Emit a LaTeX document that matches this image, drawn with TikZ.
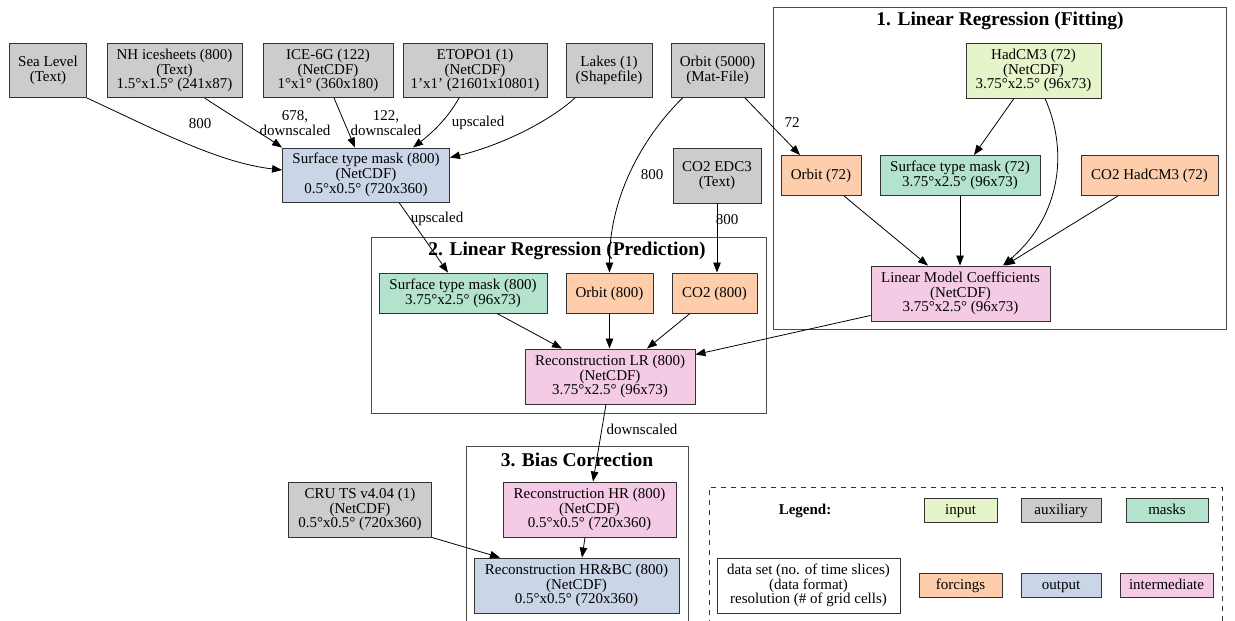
\documentclass[tikz,border=0pt]{standalone}
\usepackage{fontspec}
\setmainfont{Liberation Serif}
\usetikzlibrary{arrows.meta,calc}
\definecolor{cinput}{HTML}{E6F5C9}
\definecolor{caux}{HTML}{CCCCCC}
\definecolor{cmask}{HTML}{B3E2CD}
\definecolor{cforce}{HTML}{FDCDAC}
\definecolor{cout}{HTML}{CBD5E8}
\definecolor{cinter}{HTML}{F4CAE4}
\newcommand{\nf}{\fontsize{15}{14.8}\selectfont}
\newcommand{\tf}{\fontsize{19.5}{21}\selectfont\bfseries}
\newcommand{\sq}{{\char"27}}
\begin{document}
\begin{tikzpicture}[x=1pt,y=-1pt,
  box/.style={draw=black!80,line width=0.9pt,inner sep=0pt,align=center,font=\nf},
  bx/.style n args={3}{box,minimum width=#1,minimum height=#2,fill=#3},
  oneline/.style={text height=11pt,text depth=3pt},
  conn/.style={draw=black,line width=0.8pt,-{Triangle[length=10pt,width=7.5pt]}},
  lbl/.style={font=\nf,align=center,inner sep=0pt},
  ttl/.style={font=\tf,inner sep=0pt},
  clus/.style={draw=black!70,line width=0.9pt}]
\useasboundingbox (0,0) rectangle (1235,621);
% clusters
\draw[clus] (773,7) rectangle (1226,329);
\draw[clus] (371,237) rectangle (766,413);
\draw[clus] (466,625) -- (466,446) -- (688,446) -- (688,625);
\draw[line width=0.8pt,draw=black!80,dash pattern=on 5pt off 5pt] (709,625) -- (709,487) -- (1222,487) -- (1222,625);
\node[ttl] (t1) at (1000,21) {1. Linear Regression (Fitting)};
\node[ttl] (t2) at (567,251) {2. Linear Regression (Prediction)};
\node[ttl] (t3) at (577,460) {3. Bias Correction};
% top row
\node[bx={77}{54}{caux}] (sea) at (48,70.5) {Sea Level\\(Text)};
\node[bx={135}{54}{caux}] (nh) at (174.5,70.5) {NH icesheets (800)\\(Text)\\1.5°x1.5° (241x87)};
\node[bx={130}{54}{caux}] (ice) at (328,70.5) {ICE-6G (122)\\(NetCDF)\\1°x1° (360x180)};
\node[bx={144}{54}{caux}] (etopo) at (475,70.5) {ETOPO1 (1)\\(NetCDF)\\1\sq x1\sq{} (21601x10801)};
\node[bx={86}{54}{caux}] (lakes) at (609,70.5) {Lakes (1)\\(Shapefile)};
\node[bx={93}{54}{caux}] (orb) at (717.5,70.5) {Orbit (5000)\\(Mat-File)};
\node[bx={167}{54}{cout}] (maskhr) at (366,175) {Surface type mask (800)\\(NetCDF)\\0.5°x0.5° (720x360)};
\node[bx={88}{55}{caux}] (co2edc) at (717,175.5) {CO2 EDC3\\(Text)};
% cluster 1
\node[bx={135}{55}{cinput}] (hadcm) at (1033.5,70.5) {HadCM3 (72)\\(NetCDF)\\3.75°x2.5° (96x73)};
\node[bx={80}{40}{cforce},oneline] (orb72) at (821,175.5) {Orbit (72)};
\node[bx={160}{40}{cmask}] (mask72) at (960,175.5) {Surface type mask (72)\\3.75°x2.5° (96x73)};
\node[bx={137}{40}{cforce},oneline] (co2had) at (1149.5,175.5) {CO2 HadCM3 (72)};
\node[bx={179}{55}{cinter}] (lmc) at (960.5,293.5) {Linear Model Coefficients\\(NetCDF)\\3.75°x2.5° (96x73)};
% cluster 2
\node[bx={168}{40}{cmask}] (maskgr) at (463,293) {Surface type mask (800)\\3.75°x2.5° (96x73)};
\node[bx={87}{40}{cforce},oneline] (orb800) at (609.5,293) {Orbit (800)};
\node[bx={85}{40}{cforce},oneline] (co2800) at (714.5,293) {CO2 (800)};
\node[bx={170}{55}{cinter}] (lr) at (610,376.5) {Reconstruction LR (800)\\(NetCDF)\\3.75°x2.5° (96x73)};
% cluster 3
\node[bx={173}{55}{cinter}] (hr) at (589.5,509.5) {Reconstruction HR (800)\\(NetCDF)\\0.5°x0.5° (720x360)};
\node[bx={143}{55}{caux}] (cru) at (360,509.5) {CRU TS v4.04 (1)\\(NetCDF)\\0.5°x0.5° (720x360)};
\node[bx={205}{55}{cout}] (hrbc) at (576.5,585.5) {Reconstruction HR\&BC (800)\\(NetCDF)\\0.5°x0.5° (720x360)};
% legend
\node[font=\nf\bfseries,inner sep=0pt] (leg) at (805,511) {Legend:};
\node[bx={73}{24}{cinput},oneline] (linput) at (960.5,510) {input};
\node[bx={80}{24}{caux},oneline] (laux) at (1061,510) {auxiliary};
\node[bx={82}{24}{cmask},oneline] (lmask) at (1167,510) {masks};
\node[bx={183}{55}{white}] (ldesc) at (808.5,585.5) {data set (no. of time slices)\\(data format)\\resolution (\# of grid cells)};
\node[bx={83}{24}{cforce},oneline] (lforce) at (960.5,585) {forcings};
\node[bx={80}{24}{cout},oneline] (lout) at (1061,585) {output};
\node[bx={93}{24}{cinter},oneline] (linter) at (1166.5,585) {intermediate};
% edges
\draw[conn] (sea.south east) .. controls (160,132) and (220,163) .. ($(maskhr.west)+(0,-5)$);
\draw[conn] ($(nh.south)+(30,0)$) .. controls (235,118) and (262,134) .. (maskhr.north west);
\draw[conn] ($(ice.south)+(6,0)$) -- ($(maskhr.north)+(-11,0)$);
\draw[conn] ($(etopo.south)+(-16,0)$) .. controls (448,118) and (432,133) .. ($(maskhr.north)+(47,0)$);
\draw[conn] ($(lakes.south)+(-34,0)$) .. controls (545,125) and (495,147) .. ($(maskhr.north east)+(0,10)$);
\draw[conn] ($(orb.south)+(-35,0)$) .. controls (640,140) and (609,200) .. (orb800.north);
\draw[conn] ($(orb.south)+(27.5,0)$) -- ($(orb72.north)+(-21,0)$);
\draw[conn] (co2edc.south) -- (co2edc.south |- co2800.north);
\draw[conn] ($(maskhr.south)+(33,0)$) -- ($(maskgr.north)+(-15,0)$);
\draw[conn] ($(hadcm.south)+(-19.5,0)$) -- ($(mask72.north)+(14,0)$);
\draw[conn] ($(hadcm.south)+(11.5,0)$) .. controls (1068,150) and (1062,215) .. ($(lmc.north)+(42.5,0)$);
\draw[conn] ($(orb72.south)+(23,0)$) -- ($(lmc.north)+(-32.5,0)$);
\draw[conn] (mask72.south) -- (mask72.south |- lmc.north);
\draw[conn] ($(co2had.south)+(-31.5,0)$) -- ($(lmc.north)+(44.5,0)$);
\draw[conn] ($(lmc.south west)+(0,-6)$) -- ($(lr.north east)+(0,6)$);
\draw[conn] ($(maskgr.south)+(34,0)$) -- ($(lr.north)+(-48,0)$);
\draw[conn] (orb800.south) -- (orb800.south |- lr.north);
\draw[conn] ($(co2800.south)+(-24.5,0)$) -- ($(lr.north)+(37,0)$);
\draw[conn] ($(lr.south)+(-4,0)$) -- ($(hr.north)+(3.5,0)$);
\draw[conn] (cru.south east) -- ($(hrbc.north)+(-76.5,0)$);
\draw[conn] ($(hr.south)+(-4.5,0)$) -- ($(hrbc.north)+(5.5,0)$);
% edge labels
\node[lbl] (e1) at (200,124) {800};
\node[lbl] (e2) at (295,123) {678,\\downscaled};
\node[lbl] (e3) at (386,123) {122,\\downscaled};
\node[lbl] (e4) at (478,123) {upscaled};
\node[lbl] (e5) at (437,219) {upscaled};
\node[lbl] (e6) at (652,175) {800};
\node[lbl] (e7) at (727,220) {800};
\node[lbl] (e8) at (792,123) {72};
\node[lbl] (e9) at (642,429) {downscaled};
\end{tikzpicture}
\end{document}
